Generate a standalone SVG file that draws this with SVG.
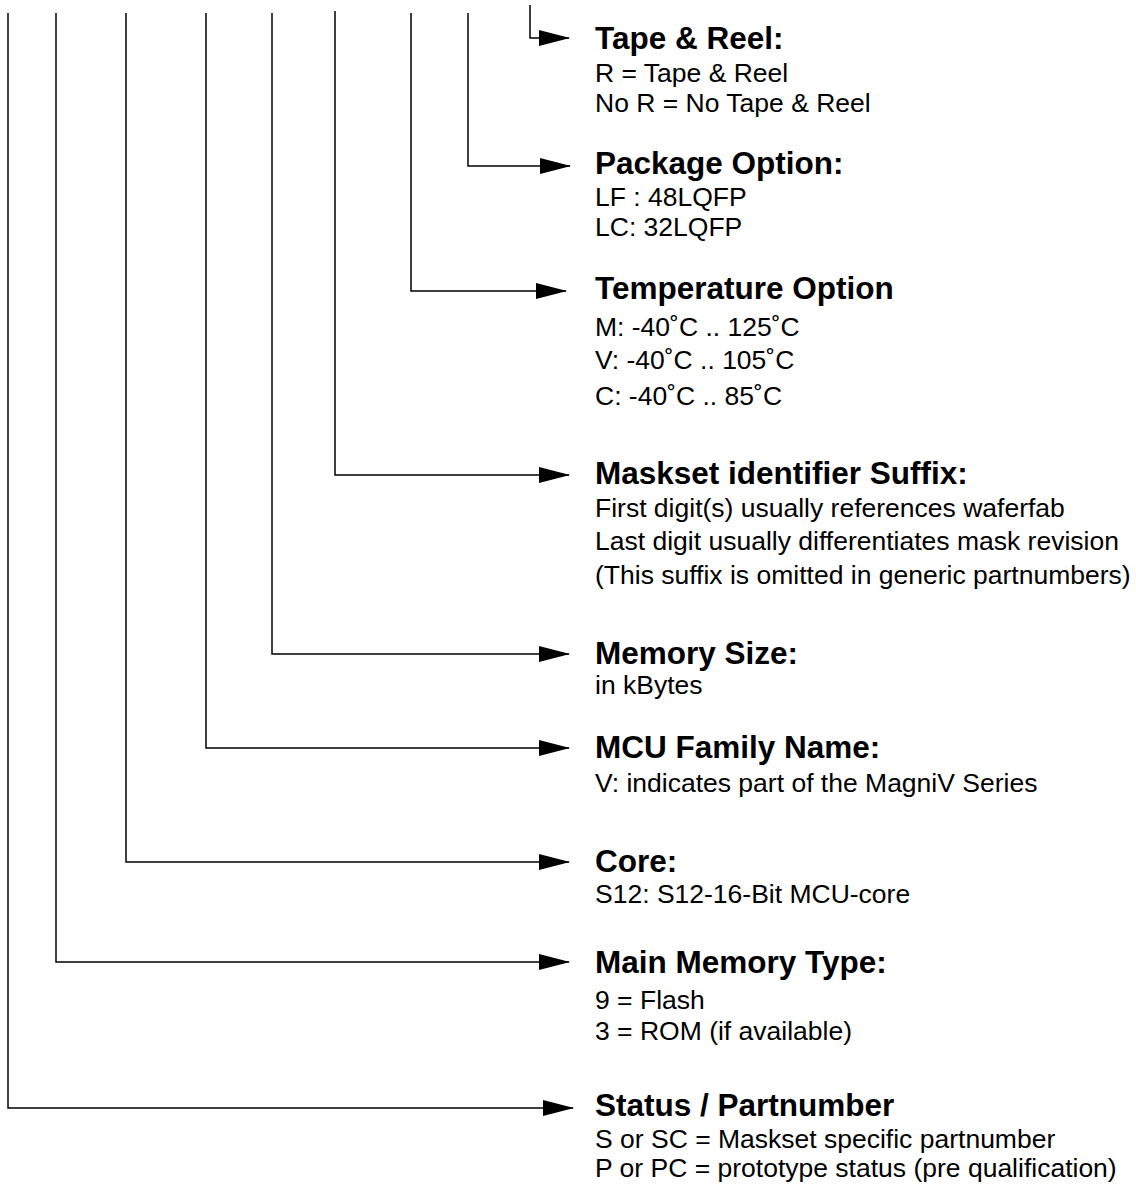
<svg xmlns="http://www.w3.org/2000/svg" width="1136" height="1185" viewBox="0 0 1136 1185">
<style>
.c{fill:none;stroke:#000;stroke-width:1.5}
.t{font-family:"Liberation Sans",Arial,Helvetica,sans-serif;font-weight:bold;font-size:31.5px;fill:#000}
.b{font-family:"Liberation Sans",Arial,Helvetica,sans-serif;font-size:26.5px;fill:#000}
</style>
<defs>
<marker id="ah" markerUnits="userSpaceOnUse" markerWidth="32" markerHeight="18" refX="30" refY="8" orient="auto">
<path d="M0,0 L31,8 L0,16 z" fill="#000"/>
</marker>
</defs>
<rect width="1136" height="1185" fill="#fff"/>
<g id="connectors">
<path class="c" d="M530,5 V38 H569" marker-end="url(#ah)"/>
<path class="c" d="M468,13 V166 H570" marker-end="url(#ah)"/>
<path class="c" d="M411,13 V291 H566" marker-end="url(#ah)"/>
<path class="c" d="M335,11 V475 H569" marker-end="url(#ah)"/>
<path class="c" d="M272,13 V654 H569" marker-end="url(#ah)"/>
<path class="c" d="M206,13 V748 H569" marker-end="url(#ah)"/>
<path class="c" d="M126,13 V862 H569" marker-end="url(#ah)"/>
<path class="c" d="M56,13 V962 H569" marker-end="url(#ah)"/>
<path class="c" d="M8,13 V1108 H573" marker-end="url(#ah)"/>
</g>
<g id="tape-reel">
<text class="t" x="595" y="49">Tape &amp; Reel:</text>
<text class="b" x="595" y="82">R = Tape &amp; Reel</text>
<text class="b" x="595" y="112">No R = No Tape &amp; Reel</text>
</g>
<g id="package-option">
<text class="t" x="595" y="174">Package Option:</text>
<text class="b" x="595" y="206">LF : 48LQFP</text>
<text class="b" x="595" y="236">LC: 32LQFP</text>
</g>
<g id="temperature-option">
<text class="t" x="595" y="299">Temperature Option</text>
<text class="b" x="595" y="336">M: -40˚C .. 125˚C</text>
<text class="b" x="595" y="369">V: -40˚C ..  105˚C</text>
<text class="b" x="595" y="405">C: -40˚C ..  85˚C</text>
</g>
<g id="maskset-suffix">
<text class="t" x="595" y="484">Maskset identifier Suffix:</text>
<text class="b" x="595" y="517">First digit(s) usually references waferfab</text>
<text class="b" x="595" y="550">Last digit usually differentiates mask revision</text>
<text class="b" x="595" y="584">(This suffix is omitted in generic partnumbers)</text>
</g>
<g id="memory-size">
<text class="t" x="595" y="664">Memory Size:</text>
<text class="b" x="595" y="694">in kBytes</text>
</g>
<g id="mcu-family">
<text class="t" x="595" y="758">MCU Family Name:</text>
<text class="b" x="595" y="792">V: indicates part of the MagniV Series</text>
</g>
<g id="core">
<text class="t" x="595" y="872">Core:</text>
<text class="b" x="595" y="903">S12: S12-16-Bit MCU-core</text>
</g>
<g id="main-memory-type">
<text class="t" x="595" y="973">Main Memory Type:</text>
<text class="b" x="595" y="1009">9 = Flash</text>
<text class="b" x="595" y="1040">3 = ROM (if available)</text>
</g>
<g id="status-partnumber">
<text class="t" x="595" y="1116">Status / Partnumber</text>
<text class="b" x="595" y="1148">S or SC = Maskset specific partnumber</text>
<text class="b" x="595" y="1177">P or PC = prototype status (pre qualification)</text>
</g>
</svg>
